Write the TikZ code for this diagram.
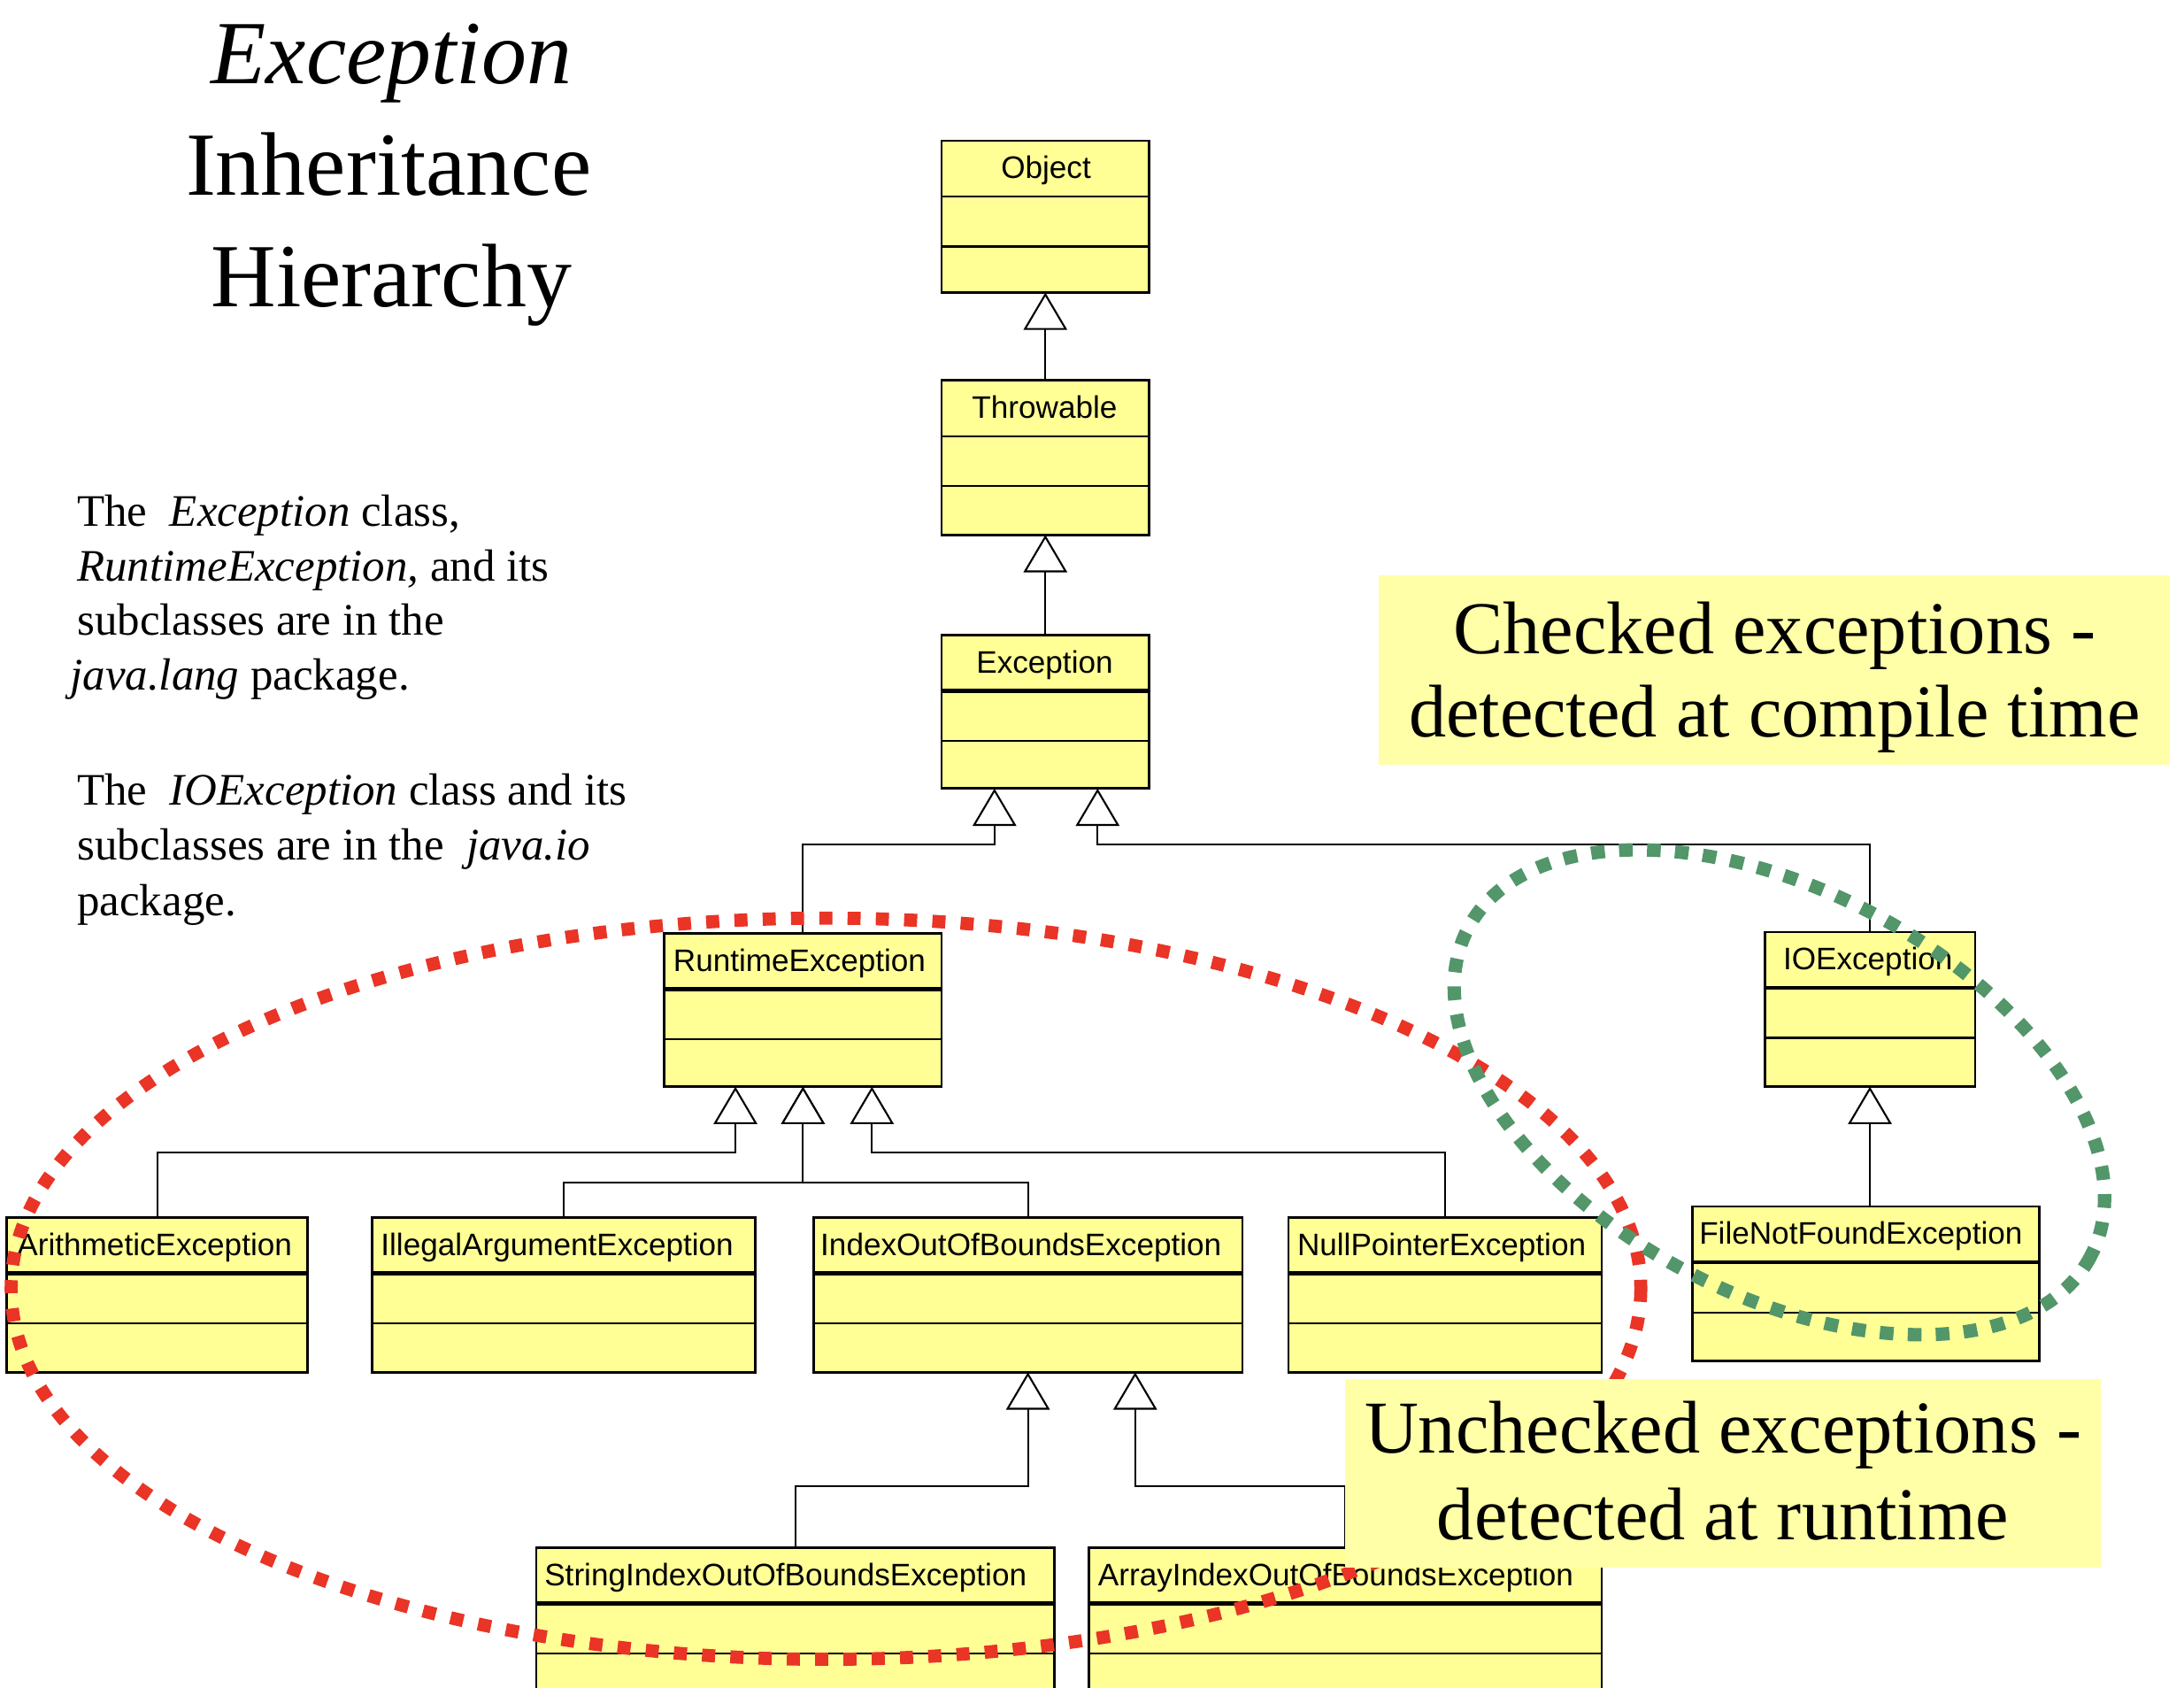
\documentclass[tikz,border=0pt]{standalone}
\usepackage{fontspec}
\setmainfont{Liberation Serif}
\newfontfamily\clsfont{Liberation Sans}
\usetikzlibrary{arrows.meta,calc,fit}
\definecolor{boxyellow}{RGB}{255,255,150}
\definecolor{noteyellow}{RGB}{255,255,168}
\definecolor{ellred}{RGB}{233,52,38}
\definecolor{ellgreen}{RGB}{82,150,106}
\tikzset{
  clsbox/.style={draw=black, line width=0.8pt, fill=boxyellow, inner sep=0pt, outer sep=0pt},
  thickdiv/.style={line width=1.3pt},
  thindiv/.style={line width=0.65pt},
  clsname/.style={font=\clsfont\fontsize{10}{12}\selectfont, inner sep=0pt, anchor=base},
  inh/.style={line width=0.6pt, -{Triangle[fill=white, length=12pt, width=14pt]}},
  redell/.style={draw=ellred, line width=4.2pt, dash pattern=on 4.2pt off 4.9pt},
  greenell/.style={draw=ellgreen, line width=4.3pt, dash pattern=on 4.4pt off 4.6pt},
  note/.style={fill=noteyellow, inner sep=0pt, outer sep=0pt},
  notetext/.style={font=\fontsize{24}{28}\selectfont, inner sep=0pt, anchor=base},
  titletext/.style={font=\fontsize{29}{34}\selectfont, inner sep=0pt, anchor=base},
  sidetext/.style={font=\fontsize{14.5}{17}\selectfont, inner sep=0pt, anchor=base west},
}
\newcommand{\umlclass}[8]{%
  \node[clsbox, fit={(#2,#3) (#4,#5)}] (#1) {};
  \draw[#8] ($(#1.north west)+(0,40)$) -- ($(#1.north east)+(0,40)$);
  \draw[thindiv] ($(#1.north west)+(0,76)$) -- ($(#1.north east)+(0,76)$);
  \node[clsname] (#1-lbl) at (#6,#3+27) {#7};
}
\begin{document}
\begin{tikzpicture}[x=0.01574cm, y=-0.01574cm]
\clip (0,0) rectangle (1568,1211);
\fill[white] (0,0) rectangle (1568,1211);

% title
\node[titletext] (title1) at (281,60) {\itshape Exception};
\node[titletext] (title2) at (279,140) {Inheritance};
\node[titletext] (title3) at (281,220) {Hierarchy};

% side notes
\node[sidetext] (s1) at (55,378) {The\ \ \textit{Exception} class,};
\node[sidetext] (s2) at (55,417) {\textit{RuntimeException,} and its};
\node[sidetext] (s3) at (55,456) {subclasses are in the};
\node[sidetext] (s4) at (50,495) {\textit{java.lang} package.};
\node[sidetext] (s5) at (55,578) {The\ \ \textit{IOException} class and its};
\node[sidetext] (s6) at (55,617) {subclasses are in the\ \ \textit{java.io}};
\node[sidetext] (s7) at (55,657) {package.};

% classes
\umlclass{obj}{676}{101}{825}{210}{751}{Object}{thindiv}
\umlclass{thr}{676}{273}{825}{384}{750}{Throwable}{thindiv}
\umlclass{exc}{676}{456}{825}{566}{750}{Exception}{thickdiv}
\umlclass{rte}{477}{670}{676}{780}{574}{RuntimeException}{thickdiv}
\umlclass{ioe}{1267}{669}{1418}{780}{1341}{IOException}{thickdiv}
\umlclass{ari}{5}{874}{221}{985}{111}{ArithmeticException}{thickdiv}
\umlclass{ill}{267}{874}{542}{985}{400}{IllegalArgumentException}{thickdiv}
\umlclass{ioob}{584}{874}{892}{985}{733}{IndexOutOfBoundsException}{thickdiv}
\umlclass{npe}{925}{874}{1150}{985}{1035}{NullPointerException}{thickdiv}
\umlclass{fnf}{1215}{866}{1464}{977}{1336}{FileNotFoundException}{thickdiv}
\umlclass{sioob}{385}{1111}{757}{1225}{564}{StringIndexOutOfBoundsException}{thickdiv}
\umlclass{aioob}{782}{1111}{1150}{1225}{959}{ArrayIndexOutOfBoundsException}{thickdiv}

% attachment points
\coordinate (exc-l) at ($(exc.south)+(-36.5,0)$);
\coordinate (exc-r) at ($(exc.south)+(37.5,0)$);
\coordinate (rte-l) at ($(rte.south)+(-48.5,0)$);
\coordinate (rte-m) at (rte.south);
\coordinate (rte-r) at ($(rte.south)+(49.5,0)$);
\coordinate (ioob-l) at (ioob.south);
\coordinate (ioob-r) at ($(ioob.south)+(77,0)$);

% inheritance connectors
\draw[inh] (thr.north) -- (obj.south);
\draw[inh] (exc.north) -- (thr.south);
\draw[inh] (rte.north) |- ($(exc-l)+(0,40)$) -- (exc-l);
\draw[inh] (ioe.north) |- ($(exc-r)+(0,40)$) -- (exc-r);
\draw[inh] (ari.north) |- ($(rte-l)+(0,47)$) -- (rte-l);
\draw[inh] (ill.north) |- ($(rte-m)+(0,69)$) -- (rte-m);
\draw[inh] (ioob.north) |- ($(rte-m)+(0,69)$) -- (rte-m);
\draw[inh] (npe.north) |- ($(rte-r)+(0,47)$) -- (rte-r);
\draw[inh] (sioob.north) |- ($(ioob-l)+(0,82)$) -- (ioob-l);
\draw[inh] (aioob.north) |- ($(ioob-r)+(0,82)$) -- (ioob-r);
\draw[inh] (fnf.north -| ioe.south) -- (ioe.south);

% dotted ellipses
\draw[redell] (593,925) ellipse [x radius=585, y radius=266];
\draw[greenell, rotate around={-27.8:(1277.5,784)}] (1277.5,784) ellipse [x radius=252.6, y radius=144.8];

% callouts
\node[note, fit={(990,413) (1558,549)}] (chk) {};
\node[notetext] (chk-1) at (1274,469) {Checked exceptions -};
\node[notetext] (chk-2) at (1274,529) {detected at compile time};
\node[note, fit={(966,990) (1508,1125)}] (unc) {};
\node[notetext] (unc-1) at (1237,1043) {Unchecked exceptions -};
\node[notetext] (unc-2) at (1237,1105) {detected at runtime};
\end{tikzpicture}
\end{document}
